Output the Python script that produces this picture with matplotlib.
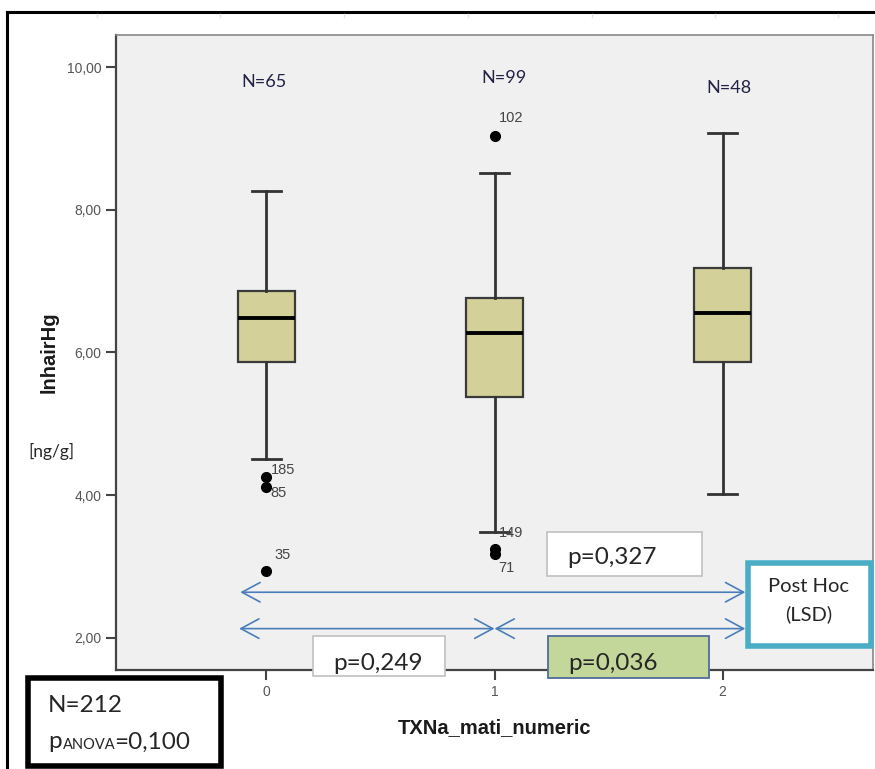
import numpy as np
import matplotlib.pyplot as plt
from matplotlib import patches, lines

# lnhairHg by TXNa_mati_numeric group
groups = [0, 1, 2]
n_labels = ["N=65", "N=99", "N=48"]
q1 = [5.86, 5.38, 5.86]
med = [6.49, 6.27, 6.55]
q3 = [6.86, 6.77, 7.19]
wlo = [4.51, 3.49, 4.01]
whi = [8.27, 8.52, 9.07]
outliers = [[4.25, 4.12, 2.94], [9.04, 3.24, 3.17], []]
outlier_ids = [["185", "85", "35"], ["102", "149", "71"], []]

yticks = [2, 4, 6, 8, 10]
p_anova = "0,100"
n_total = 212
p_pairs = {"0-1": "0,249", "1-2": "0,036", "0-2": "0,327"}

W, H = 875, 769
fig = plt.figure(figsize=(W / 100, H / 100), dpi=100)
fig.patch.set_facecolor("white")


def fx(x):
    return x / W


def fy(y):
    return 1 - y / H


ax = fig.add_axes([fx(116), fy(670), fx(873) - fx(116), fy(35) - fy(670)])
ax.set_facecolor("#f0f0f0")

stats = []
for i in range(len(groups)):
    stats.append(dict(q1=q1[i], med=med[i], q3=q3[i], whislo=wlo[i],
                      whishi=whi[i], fliers=outliers[i]))

ax.bxp(stats, positions=groups, widths=0.25, capwidths=0.123,
       patch_artist=True, showfliers=True,
       boxprops=dict(facecolor="#d4d09a", edgecolor="#3a3a3a", linewidth=1.6),
       medianprops=dict(color="black", linewidth=2.8),
       whiskerprops=dict(color="#333333", linewidth=2),
       capprops=dict(color="#333333", linewidth=2),
       flierprops=dict(marker="o", markerfacecolor="black",
                       markeredgecolor="black", markersize=7))

# case numbers next to the outliers (offsets in points)
id_offsets = {"185": (3.5, 5.5), "85": (3, -4.5), "35": (5.5, 11.5),
              "102": (3, 13), "149": (3.5, 12), "71": (3, -10)}
for g, vals, ids in zip(groups, outliers, outlier_ids):
    for v, name in zip(vals, ids):
        dx, dy = id_offsets[name]
        ax.annotate(name, (g, v), xytext=(dx, dy), textcoords="offset points",
                    fontsize=10.5, color="#444444", family="Liberation Sans",
                    va="center", ha="left")

n_y = [9.79, 9.85, 9.71]
n_x = [-0.01, 0.04, 0.03]
for g, lab, yy, dx in zip(groups, n_labels, n_y, n_x):
    ax.text(g + dx, yy, lab, ha="center", va="center", fontsize=13,
            family="Lato", color="#222244")

ax.set_xlim(-0.66, 2.66)
ax.set_ylim(1.55, 10.45)
ax.set_yticks(yticks)
ax.set_yticklabels([f"{t:.2f}".replace(".", ",") for t in yticks])
ax.set_xticks(groups)
ax.set_xticklabels([str(g) for g in groups])
ax.tick_params(axis="both", direction="out", length=7, width=1.5,
               color="#444444", labelcolor="#555555", labelsize=10)
for lab in ax.get_xticklabels() + ax.get_yticklabels():
    lab.set_family("Liberation Sans")
for side in ["left", "bottom"]:
    ax.spines[side].set_color("#444444")
    ax.spines[side].set_linewidth(1.6)
for side in ["top", "right"]:
    ax.spines[side].set_color("#888888")
    ax.spines[side].set_linewidth(1.2)

ax.set_xlabel("TXNa_mati_numeric", fontsize=14.5, fontweight="bold",
              family="Liberation Sans", labelpad=14, color="#1a1a1a")
ax.set_ylabel("lnhairHg", fontsize=14.5, fontweight="bold",
              family="Liberation Sans", labelpad=6, color="#1a1a1a")

# post hoc comparison arrows
arrow_kw = dict(arrowstyle="<->,head_length=0.65,head_width=0.35",
                mutation_scale=20, color="#4a7ebb", lw=1.2,
                shrinkA=0, shrinkB=0)
ax.annotate("", xy=(2.1, 2.64), xytext=(-0.115, 2.64), arrowprops=arrow_kw)
ax.annotate("", xy=(1.0, 2.13), xytext=(-0.12, 2.13), arrowprops=arrow_kw)
ax.annotate("", xy=(2.1, 2.13), xytext=(1.0, 2.13), arrowprops=arrow_kw)


def box(x0, y0, x1, y1, fc, ec, lw, z=5):
    r = patches.Rectangle((fx(x0), fy(y1)), fx(x1) - fx(x0), fy(y0) - fy(y1),
                          transform=fig.transFigure, facecolor=fc,
                          edgecolor=ec, linewidth=lw, zorder=z)
    fig.add_artist(r)


box(547, 532, 702, 576, "white", "#c0c0c0", 1.2)
fig.text(fx(567), fy(558), "p=" + p_pairs["0-2"], fontsize=17.5, family="Lato",
         color="#262626", va="center", zorder=6)
box(313, 636, 445, 676, "white", "#c0c0c0", 1.2)
fig.text(fx(333), fy(663), "p=" + p_pairs["0-1"], fontsize=17.5, family="Lato",
         color="#262626", va="center", zorder=6)
box(548, 636, 709, 678, "#c4d79b", "#4f6d9a", 1.3)
fig.text(fx(568), fy(663), "p=" + p_pairs["1-2"], fontsize=17.5, family="Lato",
         color="#262626", va="center", zorder=6)

box(748, 563, 871, 646, "white", "#4bacc6", 4)
fig.text(fx(809), fy(586), "Post Hoc", fontsize=14.5, family="Lato",
         color="#262626", ha="center", va="center", zorder=6)
fig.text(fx(809), fy(614), "(LSD)", fontsize=14.5, family="Lato",
         color="#262626", ha="center", va="center", zorder=6)

box(28, 678, 221, 766, "white", "black", 4)
fig.text(fx(48), fy(706), f"N={n_total}", fontsize=17.5, family="Lato",
         color="#262626", va="center", zorder=6)
fig.text(fx(48), fy(742), "p", fontsize=17.5, family="Lato",
         color="#262626", va="center", zorder=6)
fig.text(fx(63), fy(745), "ANOVA", fontsize=10.5, family="Lato",
         color="#262626", va="center", zorder=6)
fig.text(fx(114), fy(742), "=" + p_anova, fontsize=17.5, family="Lato",
         color="#262626", va="center", zorder=6)

fig.text(fx(28), fy(451), "[ng/g]", fontsize=12.5, family="Lato",
         color="#262626", va="center")

# page frame and ruler marks
fig.add_artist(lines.Line2D([fx(7), fx(875)], [fy(12), fy(12)],
                            color="black", lw=2.2, transform=fig.transFigure))
fig.add_artist(lines.Line2D([fx(7), fx(7)], [fy(12), fy(769)],
                            color="black", lw=2.2, transform=fig.transFigure))
for rx in [97, 220, 344, 468, 592, 715, 838]:
    fig.add_artist(lines.Line2D([fx(rx), fx(rx)], [fy(14), fy(17)],
                                color="#dde4ee", lw=1, transform=fig.transFigure))

fig.savefig("out.png", dpi=100)
